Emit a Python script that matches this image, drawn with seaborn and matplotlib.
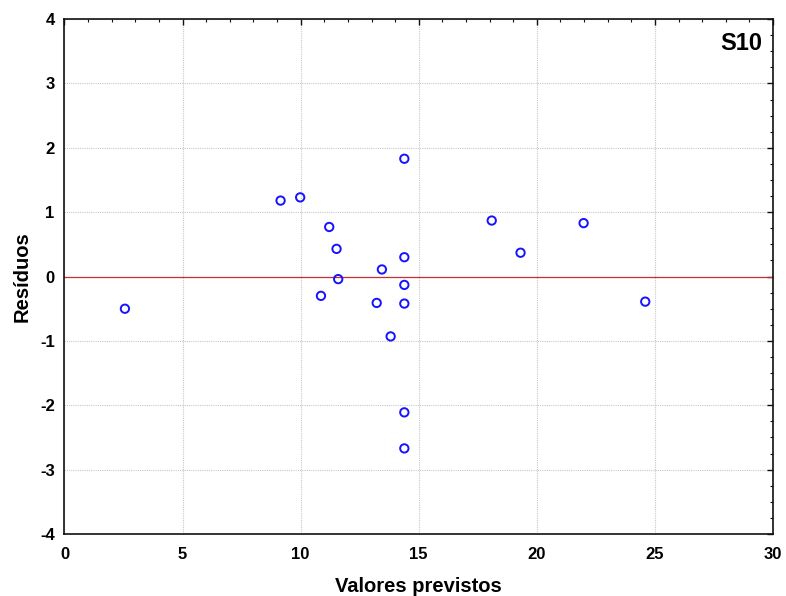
import matplotlib
matplotlib.use("Agg")
import matplotlib.pyplot as plt
from matplotlib.ticker import MultipleLocator
import numpy as np
import pandas as pd
import seaborn as sns

# Predicted values and residuals for sample S10
valores_previstos = [2.56, 9.15, 9.98, 10.86, 11.21, 11.52, 11.59, 13.22, 13.44, 13.81,
                     14.39, 14.39, 14.39, 14.39, 14.39, 14.39, 18.09, 19.31, 21.98, 24.59]
residuos = [-0.50, 1.18, 1.23, -0.30, 0.77, 0.43, -0.04, -0.41, 0.11, -0.93,
            1.83, 0.30, -0.13, -0.42, -2.11, -2.67, 0.87, 0.37, 0.83, -0.39]
painel = "S10"

df = pd.DataFrame({"Valores previstos": valores_previstos, "Resíduos": residuos})

sns.set_style("white")
plt.rcParams["font.family"] = ["Liberation Sans", "DejaVu Sans"]
plt.rcParams["axes.unicode_minus"] = False
plt.rcParams["text.color"] = "black"
plt.rcParams["axes.labelcolor"] = "black"
plt.rcParams["xtick.color"] = "black"
plt.rcParams["ytick.color"] = "black"

fig = plt.figure(figsize=(7.86, 5.96), dpi=100)
ax = fig.add_axes([0.082, 0.104, 0.9015, 0.864])

ax.set_xlim(0, 30)
ax.set_ylim(-4, 4)
ax.xaxis.set_major_locator(MultipleLocator(5))
ax.xaxis.set_minor_locator(MultipleLocator(1))
ax.yaxis.set_major_locator(MultipleLocator(1))
ax.yaxis.set_minor_locator(MultipleLocator(0.25))

ax.grid(True, which="major", color="#c8c8c8", linestyle=(0, (1, 1)), linewidth=0.8)
ax.set_axisbelow(True)
ax.axhline(0, color="#c83030", linewidth=0.9, zorder=2)

sns.scatterplot(data=df, x="Valores previstos", y="Resíduos", ax=ax,
                marker="o", s=36, facecolor="none", edgecolor="#1414ff",
                linewidth=1.4, zorder=3)

for side in ax.spines.values():
    side.set_color("#111111")
    side.set_linewidth(1.2)

ax.tick_params(which="both", direction="in", top=True, right=True,
               color="#111111")
ax.tick_params(which="major", length=4, width=1.0, labelsize=12)
ax.tick_params(axis="x", which="major", pad=9)
ax.tick_params(axis="y", which="major", pad=7)
ax.tick_params(which="minor", length=2.5, width=0.8)
for lab in ax.get_xticklabels() + ax.get_yticklabels():
    lab.set_fontweight("bold")

ax.set_xlabel("Valores previstos", fontsize=14.5, fontweight="bold", labelpad=11)
ax.set_ylabel("Resíduos", fontsize=14.5, fontweight="bold", labelpad=6)

ax.text(0.985, 0.975, painel, transform=ax.transAxes, ha="right", va="top",
        fontsize=17, fontweight="bold")

fig.savefig("out.png", dpi=100)
